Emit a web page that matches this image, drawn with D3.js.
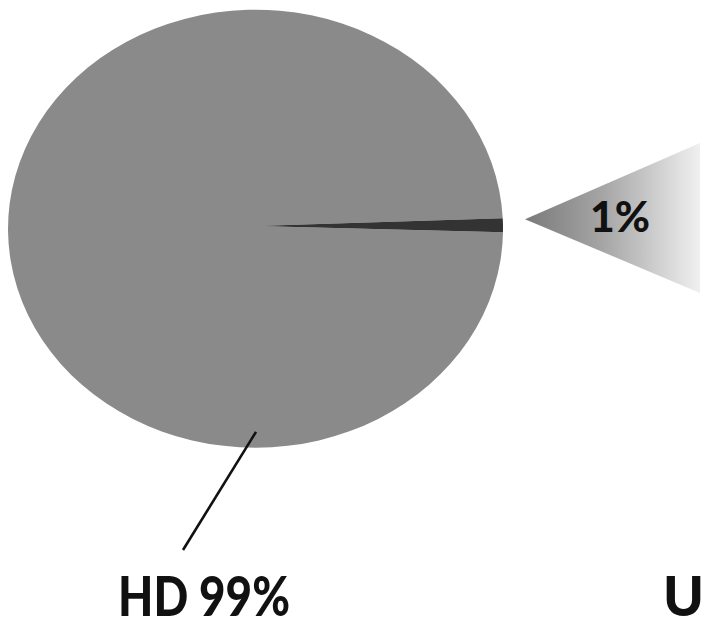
<!DOCTYPE html>
<html>
<head>
<meta charset="utf-8">
<script src="https://cdn.jsdelivr.net/npm/d3@7"></script>
<style>
  html, body { margin: 0; padding: 0; background: #ffffff; }
  svg { display: block; }
  text { font-family: Lato, "Open Sans", sans-serif; font-weight: 900; fill: #111; }
</style>
</head>
<body>
<svg id="chart" width="704" height="628"></svg>
<script>
// Share of cases by category
const categories = ["HD", "Other"];
const values = [99, 1];
const sliceColors = ["#8a8a8a", "#333333"];
const mainLabel = "HD 99%";
const zoomLabel = "1%";
const secondaryLabel = "U";

const W = 704, H = 628;
const svg = d3.select("#chart");

// Pie geometry (slightly oval)
const cx = 255.5, cy = 226, rx = 247.5, ry = 219;

const pie = d3.pie()
  .sort(null)
  .value(d => d)
  .startAngle(91.6 * Math.PI / 180)
  .endAngle(91.6 * Math.PI / 180 + 2 * Math.PI);

const arcs = pie(values);
const arc = d3.arc().innerRadius(0).outerRadius(1);

const pieG = svg.append("g")
  .attr("transform", `translate(${cx},${cy}) scale(${rx},${ry})`);

pieG.selectAll("path")
  .data(arcs)
  .join("path")
  .attr("d", arc)
  .attr("fill", (d, i) => sliceColors[i]);

// Secondary wedge that expands the small slice
const defs = svg.append("defs");
const grad = defs.append("linearGradient")
  .attr("id", "wedgeFill")
  .attr("gradientUnits", "userSpaceOnUse")
  .attr("x1", 525).attr("y1", 0)
  .attr("x2", 700).attr("y2", 0);
grad.append("stop").attr("offset", "0").attr("stop-color", "#7a7a7a");
grad.append("stop").attr("offset", "0.45").attr("stop-color", "#a6a6a6");
grad.append("stop").attr("offset", "1").attr("stop-color", "#f0f0f0");

const small = arcs[1];
const midAngle = (small.startAngle + small.endAngle) / 2;
// Wedge tip sits just beyond the slice's outer edge
const tipX = cx + (rx + 22) * Math.sin(midAngle);
const tipY = cy - (ry + 22) * Math.cos(midAngle) - 6;
const wedgeRightX = 700, wedgeTopY = 143, wedgeBottomY = 293;

svg.append("path")
  .attr("d", d3.line()([[tipX, tipY], [wedgeRightX, wedgeTopY], [wedgeRightX, wedgeBottomY]]) + "Z")
  .attr("fill", "url(#wedgeFill)");

svg.append("text")
  .attr("x", 620).attr("y", 232)
  .attr("text-anchor", "middle")
  .attr("font-size", 42)
  .attr("textLength", 60)
  .attr("lengthAdjust", "spacingAndGlyphs")
  .text(zoomLabel);

// Leader line and label for the large slice
const leadAngle = Math.PI * 1.0;
const lx0 = cx + 0.94 * rx * Math.sin(leadAngle) + 0.5;
const ly0 = cy - 0.94 * ry * Math.cos(leadAngle);
svg.append("line")
  .attr("x1", lx0).attr("y1", ly0)
  .attr("x2", 183).attr("y2", 550)
  .attr("stroke", "#111")
  .attr("stroke-width", 2.6);

svg.append("text")
  .attr("x", 118).attr("y", 616)
  .attr("font-size", 55)
  .attr("textLength", 172)
  .attr("lengthAdjust", "spacingAndGlyphs")
  .text(mainLabel);

svg.append("text")
  .attr("x", 663).attr("y", 616)
  .attr("font-size", 55)
  .text(secondaryLabel);
</script>
</body>
</html>
